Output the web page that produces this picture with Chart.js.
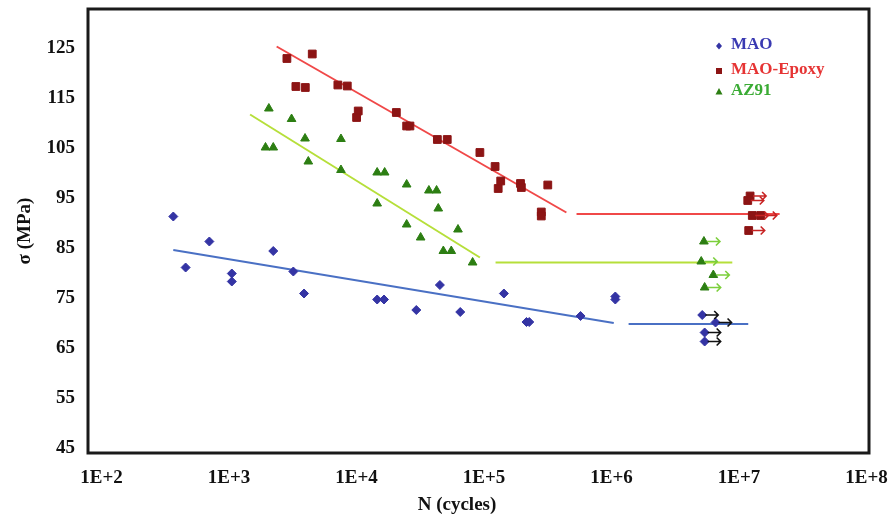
<!DOCTYPE html>
<html>
<head>
<meta charset="utf-8">
<script src="https://cdn.jsdelivr.net/npm/chart.js@4.4.1/dist/chart.umd.min.js"></script>
<style>
  html, body { margin: 0; padding: 0; background: #fff; }
</style>
</head>
<body>
<canvas id="chart" width="891" height="516"></canvas>
<script>
// tick labels
const xTicks = [1e2, 1e3, 1e4, 1e5, 1e6, 1e7, 1e8];
const yTicks = [45, 55, 65, 75, 85, 95, 105, 115, 125];

// MAO (failed specimens)
const maoN = [365, 456, 700, 1050, 1050, 2220, 3190, 3870, 14500, 16400, 29400, 45000, 65000, 143000, 215000, 226000, 571000, 1.07e6, 1.07e6];
const maoS = [91.3, 81.1, 86.3, 79.9, 78.3, 84.4, 80.3, 75.9, 74.7, 74.7, 72.6, 77.6, 72.2, 75.9, 70.2, 70.2, 71.4, 75.3, 74.7];
// MAO run-outs
const maoRunN = [5.14e6, 6.54e6, 5.37e6, 5.37e6];
const maoRunS = [71.6, 70.1, 68.1, 66.3];

// MAO-Epoxy
const epoN = [2840, 4490, 3340, 3960, 7130, 8450, 10300, 10000, 20500, 24700, 26200, 43000, 51400, 92700, 122000, 135000, 129000, 193000, 196000, 316000, 281000, 281000];
const epoS = [122.9, 123.8, 117.3, 117.1, 117.6, 117.4, 112.4, 111.1, 112.1, 109.4, 109.4, 106.7, 106.7, 104.1, 101.3, 98.4, 96.9, 97.9, 97.1, 97.6, 92.2, 91.4];
const epoRunN = [1.22e7, 1.17e7, 1.27e7, 1.48e7, 1.19e7];
const epoRunS = [95.4, 94.5, 91.5, 91.5, 88.5];

// AZ91
const azN = [2050, 3090, 1930, 2220, 3940, 4180, 7540, 7540, 14500, 16600, 24700, 14500, 36900, 42400, 43700, 24700, 31800, 62400, 47900, 55300, 81300];
const azS = [112.9, 110.8, 105.1, 105.1, 106.9, 102.3, 106.8, 100.6, 100.1, 100.1, 97.7, 93.9, 96.5, 96.5, 92.9, 89.7, 87.1, 88.7, 84.4, 84.4, 82.1];
const azRunN = [5.30e6, 5.05e6, 6.28e6, 5.37e6];
const azRunS = [86.3, 82.3, 79.6, 77.1];

// fitted lines and endurance limits
const maoFitN = [365, 1.04e6];    const maoFitS = [84.6, 70.0];
const maoLimN = [1.36e6, 1.18e7]; const maoLimS = [69.8, 69.8];
const epoFitN = [2360, 4.42e5];   const epoFitS = [125.3, 92.1];
const epoLimN = [5.31e5, 2.08e7]; const epoLimS = [91.8, 91.8];
const azFitN = [1460, 9.27e4];    const azFitS = [111.7, 83.1];
const azLimN = [1.23e5, 8.85e6];  const azLimS = [82.1, 82.1];

const BLUE = "#3434a4", RED = "#8c1414", GREEN = "#2c7e12";
const FONT = "'Liberation Serif', 'Times New Roman', serif";

function pts(xs, ys) {
  return xs.map((x, i) => ({ x, y: ys[i] }));
}

function markers(data, style, color, radius, arrowColor) {
  return {
    data, showLine: false, order: 1,
    pointStyle: style, pointRadius: radius, pointHoverRadius: radius,
    backgroundColor: color, borderColor: color, borderWidth: 1,
    arrowColor
  };
}

function line(data, color) {
  return {
    data, showLine: true, order: 2,
    borderColor: color, borderWidth: 2, pointRadius: 0, fill: false
  };
}

function noPad(s) {
  s.paddingTop = 0; s.paddingBottom = 0; s.paddingLeft = 0; s.paddingRight = 0;
}

// arrows behind the run-out specimens
const runoutArrows = {
  id: "runoutArrows",
  afterDatasetsDraw(chart) {
    const ctx = chart.ctx;
    chart.data.datasets.forEach((ds, i) => {
      if (!ds.arrowColor) return;
      const meta = chart.getDatasetMeta(i);
      ctx.save();
      ctx.strokeStyle = ds.arrowColor;
      ctx.lineWidth = 1.6;
      meta.data.forEach(p => {
        const x0 = p.x + 3, x1 = p.x + 16, y = p.y;
        ctx.beginPath();
        ctx.moveTo(x0, y); ctx.lineTo(x1, y);
        ctx.moveTo(x1 - 4, y - 4); ctx.lineTo(x1, y); ctx.lineTo(x1 - 4, y + 4);
        ctx.stroke();
      });
      ctx.restore();
    });
  }
};

// frame, legend, x-axis title
const decor = {
  id: "decor",
  afterDraw(chart) {
    const { ctx, chartArea: a } = chart;
    ctx.save();
    ctx.strokeStyle = "#1a1a1a";
    ctx.lineWidth = 3;
    ctx.strokeRect(a.left, a.top, a.right - a.left, a.bottom - a.top);

    ctx.font = "bold 19px " + FONT;
    ctx.fillStyle = "#111";
    ctx.textAlign = "center";
    ctx.textBaseline = "middle";
    ctx.fillText("N (cycles)", 457, 505);

    // legend
    ctx.font = "bold 17px " + FONT;
    ctx.textAlign = "left";
    const items = [
      { t: "MAO", y: 45, c: "#3a3ab2", m: "d", mc: BLUE },
      { t: "MAO-Epoxy", y: 70, c: "#e63434", m: "s", mc: RED },
      { t: "AZ91", y: 91, c: "#3aab34", m: "t", mc: GREEN }
    ];
    items.forEach(it => {
      const mx = 719, my = it.y + 1;
      ctx.fillStyle = it.mc;
      ctx.beginPath();
      if (it.m === "d") {
        ctx.moveTo(mx, my - 3.5); ctx.lineTo(mx + 3, my); ctx.lineTo(mx, my + 3.5); ctx.lineTo(mx - 3, my);
      } else if (it.m === "s") {
        ctx.rect(mx - 3, my - 3, 6, 6);
      } else {
        ctx.moveTo(mx, my - 4); ctx.lineTo(mx + 3.5, my + 2.5); ctx.lineTo(mx - 3.5, my + 2.5);
      }
      ctx.closePath();
      ctx.fill();
      ctx.fillStyle = it.c;
      ctx.fillText(it.t, 731, it.y);
    });
    ctx.restore();
  }
};

new Chart(document.getElementById("chart"), {
  type: "scatter",
  data: {
    datasets: [
      markers(pts(maoN, maoS), "rectRot", BLUE, 4.5),
      markers(pts(maoRunN, maoRunS), "rectRot", BLUE, 4.5, "#111111"),
      markers(pts(epoN, epoS), "rect", RED, 5.5),
      markers(pts(epoRunN, epoRunS), "rect", RED, 5.5, "#c82424"),
      markers(pts(azN, azS), "triangle", GREEN, 5),
      markers(pts(azRunN, azRunS), "triangle", GREEN, 5, "#7ccf3c"),
      line(pts(maoFitN, maoFitS), "#4a70c4"),
      line(pts(maoLimN, maoLimS), "#4a70c4"),
      line(pts(epoFitN, epoFitS), "#f04848"),
      line(pts(epoLimN, epoLimS), "#f04848"),
      line(pts(azFitN, azFitS), "#b6df3a"),
      line(pts(azLimN, azLimS), "#b6df3a")
    ]
  },
  options: {
    responsive: false,
    animation: false,
    layout: { padding: { top: 9, right: 22, bottom: 0, left: 0 } },
    plugins: { legend: { display: false }, tooltip: { enabled: false } },
    scales: {
      x: {
        type: "logarithmic",
        min: 78.2,
        max: 1.045e8,
        afterBuildTicks: s => { s.ticks = xTicks.map(v => ({ value: v })); },
        afterFit: s => { s.height = 63; noPad(s); },
        grid: { display: false, drawTicks: false },
        border: { display: false },
        ticks: {
          autoSkip: false, maxRotation: 0, padding: 14,
          color: "#111", font: { family: FONT, size: 19, weight: "bold" },
          callback: v => "1E+" + Math.round(Math.log10(v))
        }
      },
      y: {
        min: 44,
        max: 132.8,
        afterBuildTicks: s => { s.ticks = yTicks.map(v => ({ value: v })); },
        afterFit: s => { s.width = 88; noPad(s); },
        grid: { display: false, drawTicks: false },
        border: { display: false },
        ticks: {
          padding: 13,
          color: "#111", font: { family: FONT, size: 19, weight: "bold" }
        },
        title: {
          display: true, text: "σ (MPa)", color: "#111",
          font: { family: FONT, size: 19, weight: "bold" },
          padding: { top: 14, bottom: 0 }
        }
      }
    }
  },
  plugins: [runoutArrows, decor]
});
</script>
</body>
</html>
